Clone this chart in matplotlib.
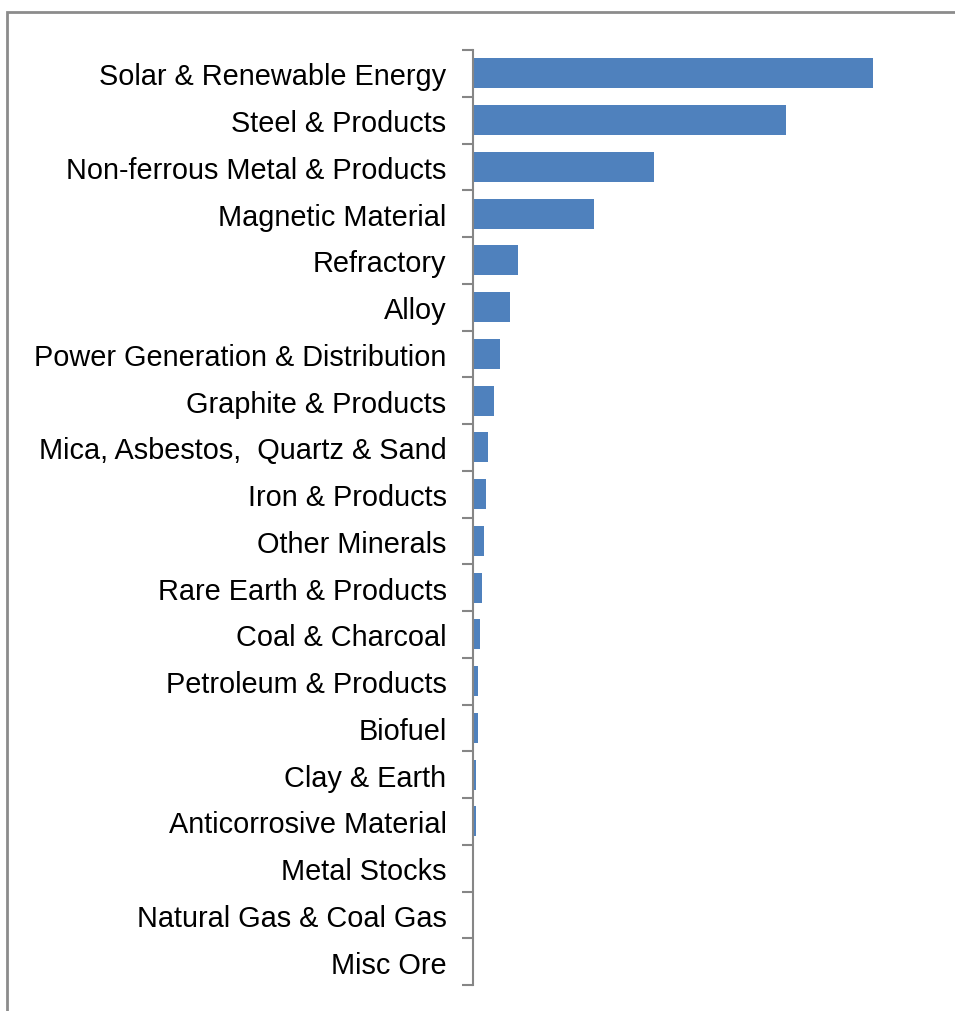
import matplotlib.pyplot as plt
from matplotlib.patches import Rectangle

categories = ['Solar & Renewable Energy', 'Steel & Products', 'Non-ferrous Metal & Products',
              'Magnetic Material', 'Refractory', 'Alloy', 'Power Generation & Distribution',
              'Graphite & Products', 'Mica, Asbestos,  Quartz & Sand', 'Iron & Products',
              'Other Minerals', 'Rare Earth & Products', 'Coal & Charcoal',
              'Petroleum & Products', 'Biofuel', 'Clay & Earth', 'Anticorrosive Material',
              'Metal Stocks', 'Natural Gas & Coal Gas', 'Misc Ore']
values = [400, 312.5, 181, 121, 45, 37, 27, 21, 15, 13, 11, 8.7, 7, 4.7, 4.7, 2.7, 2.7, 0, 0, 0]

plt.rcParams['font.family'] = ['Liberation Sans', 'DejaVu Sans']

fig = plt.figure(figsize=(9.55, 10.12), dpi=100)

# outer chart frame (top/left visible, the rest runs off the image)
fig.patches.append(Rectangle((7 / 955, -0.05), 1.1, (1012 - 13) / 1012 + 0.05,
                             transform=fig.transFigure, fill=False,
                             edgecolor='#8c8c8c', linewidth=2))

ax = fig.add_axes([473 / 955, 26 / 1012, 467 / 955, 935 / 1012])

n = len(categories)
y = list(range(n))
ax.barh(y, values, height=0.64, color='#4F81BD')

ax.set_ylim(n - 0.5, -0.5)
ax.set_xlim(0, 467)
ax.set_yticks(y)
ax.set_yticklabels(categories, fontsize=20.8)
ax.set_yticks([i - 0.5 for i in range(n + 1)], minor=True)
ax.tick_params(axis='y', which='major', length=0, pad=19)
ax.tick_params(axis='y', which='minor', length=8, width=1.5, color='#868686', direction='out')
ax.set_xticks([])

for side in ['top', 'right', 'bottom']:
    ax.spines[side].set_visible(False)
ax.spines['left'].set_color('#868686')
ax.spines['left'].set_linewidth(1.5)

fig.savefig('out.png', dpi=100)
